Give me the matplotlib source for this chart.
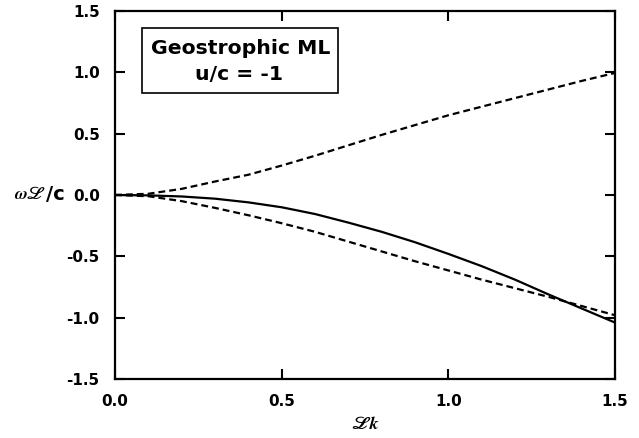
import matplotlib
matplotlib.use("Agg")
import matplotlib.pyplot as plt
from matplotlib.patches import Rectangle

Lk = [0.0, 0.1, 0.2, 0.3, 0.4, 0.5, 0.6, 0.7, 0.8, 0.9, 1.0, 1.1, 1.2, 1.3, 1.4, 1.5]
upper_dashed = [0.0, 0.01, 0.05, 0.11, 0.165, 0.24, 0.32, 0.405, 0.49, 0.57, 0.65, 0.72, 0.79, 0.86, 0.93, 0.995]
lower_dashed = [0.0, -0.01, -0.05, -0.105, -0.165, -0.23, -0.30, -0.38, -0.46, -0.54, -0.615, -0.69, -0.76, -0.83, -0.905, -0.98]
solid = [0.0, -0.003, -0.012, -0.03, -0.06, -0.10, -0.155, -0.225, -0.30, -0.385, -0.48, -0.58, -0.69, -0.81, -0.925, -1.04]

xticks = [0.0, 0.5, 1.0, 1.5]
yticks = [-1.5, -1.0, -0.5, 0.0, 0.5, 1.0, 1.5]
box_line1 = "Geostrophic ML"
box_line2 = "u/c = -1"

W, H = 639, 438
fig = plt.figure(figsize=(W / 100, H / 100), dpi=100)
ax = fig.add_axes([115 / W, 1 - 379 / H, 500 / W, 368 / H])

dash = (0, (3.1, 1.8))
ax.plot(Lk, solid, color='black', lw=1.6)
ax.plot(Lk, upper_dashed, color='black', lw=1.6, linestyle=dash)
ax.plot(Lk, lower_dashed, color='black', lw=1.6, linestyle=dash)

ax.set_xlim(0, 1.5)
ax.set_ylim(-1.5, 1.5)
ax.set_xticks(xticks)
ax.set_yticks(yticks)
ax.set_xticklabels([f"{v:.1f}" for v in xticks])
ax.set_yticklabels([f"{v:.1f}" for v in yticks])
ax.tick_params(direction='in', length=7, width=1.5, top=True, right=True,
               labelsize=11, pad=11)
for lab in ax.get_xticklabels() + ax.get_yticklabels():
    lab.set_fontfamily('DejaVu Sans')
    lab.set_fontweight('bold')
for s in ax.spines.values():
    s.set_linewidth(1.6)

# axis labels
fig.text(65 / W, 1 - 195 / H, "/c", ha='right', va='center', fontsize=14,
         fontweight='bold', fontfamily='DejaVu Sans')
fig.text(45 / W, 1 - 195 / H, "ωℒ", ha='right', va='center', fontsize=12.5,
         fontweight='bold', fontstyle='italic', fontfamily='STIXGeneral')
fig.text(365 / W, 1 - 425 / H, "ℒk", ha='center', va='center', fontsize=13,
         fontweight='bold', fontstyle='italic', fontfamily='STIXGeneral')

# annotation box
fig.patches.append(Rectangle((142 / W, 1 - 93 / H), 196 / W, 65 / H,
                             transform=fig.transFigure, facecolor='white',
                             edgecolor='black', lw=1.2, zorder=5))
fig.text(241 / W, 1 - 49 / H, box_line1, ha='center', va='center',
         fontsize=14.7, fontweight='bold', fontfamily='DejaVu Sans', zorder=6)
fig.text(239 / W, 1 - 74 / H, box_line2, ha='center', va='center',
         fontsize=14.7, fontweight='bold', fontfamily='DejaVu Sans', zorder=6)

fig.savefig("out.png", dpi=100)
